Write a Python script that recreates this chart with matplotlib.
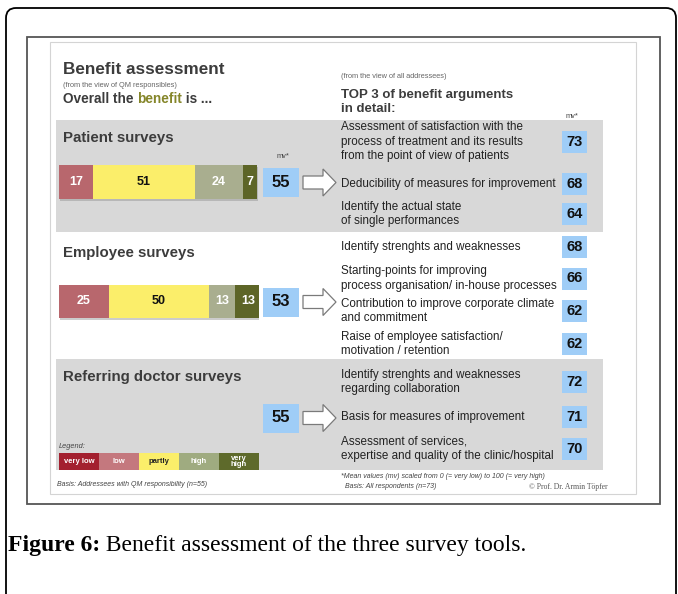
import matplotlib.pyplot as plt
from matplotlib.patches import Rectangle, FancyBboxPatch, FancyArrow

plt.rcParams['font.family'] = ['Liberation Sans', 'DejaVu Sans']

# ---- data ----
groups = ["Patient surveys", "Employee surveys", "Referring doctor surveys"]
level_labels = ["very low", "low", "partly", "high", "very\nhigh"]
# shares for low / partly / high / very high (very low not shown)
patient_shares = [17, 51, 24, 7]
employee_shares = [25, 50, 13, 13]
mean_values = [55, 53, 55]

patient_args = [
    "Assessment of satisfaction with the\nprocess of treatment and its results\nfrom the point of view of patients",
    "Deducibility of measures for improvement",
    "Identify the actual state\nof single performances",
]
patient_arg_mv = [73, 68, 64]
employee_args = [
    "Identify strenghts and weaknesses",
    "Starting-points for improving\nprocess organisation/ in-house processes",
    "Contribution to improve corporate climate\nand commitment",
    "Raise of employee satisfaction/\nmotivation / retention",
]
employee_arg_mv = [68, 66, 62, 62]
doctor_args = [
    "Identify strenghts and weaknesses\nregarding collaboration",
    "Basis for measures of improvement",
    "Assessment of services,\nexpertise and quality of the clinic/hospital",
]
doctor_arg_mv = [72, 71, 70]

# ---- layout (pixels) ----
W, H = 678, 594
share_colors = ['#b8676d', '#fbee6a', '#a9ae8f', '#5d6527']
share_text = ['white', '#111111', 'white', 'white']
legend_colors = ['#a3202f', '#c4787e', '#fbee6a', '#9fab80', '#5e6a2b']
legend_text = ['white', 'white', '#222222', 'white', 'white']
blue = '#9fcdf7'
band = '#d8d8d8'
dark = '#3c3c3c'

fig = plt.figure(figsize=(W / 100, H / 100), dpi=100)
ax = fig.add_axes([0, 0, 1, 1])
ax.set_xlim(0, W)
ax.set_ylim(H, 0)
ax.axis('off')

# frames
ax.add_patch(FancyBboxPatch((6, 8), 670, 600, boxstyle="round,pad=0,rounding_size=10",
                            fc='white', ec='black', lw=1.3))
ax.add_patch(Rectangle((27, 37), 633, 467, fc='white', ec='#555555', lw=1.3))
ax.add_patch(Rectangle((50, 42), 586, 452, fc='white', ec='#d4d4d4', lw=0.8))

# gray bands
ax.add_patch(Rectangle((56, 120), 547, 112, fc=band, ec='none'))
ax.add_patch(Rectangle((56, 359), 547, 111, fc=band, ec='none'))


def run_text(x, y, pieces, **kw):
    r = fig.canvas.get_renderer()
    for s, opts in pieces:
        t = ax.text(x, y, s, **kw, **opts)
        x += t.get_window_extent(renderer=r).width


# header left
ax.text(63, 70, "Benefit assessment", fontsize=12.3, fontweight='bold', color=dark, va='center')
ax.text(63, 85.5, "(from the view of QM responsibles)", fontsize=5.3, color='#666666', va='center')
run_text(63, 99, [("Overall the ", {'color': dark}),
                  ("benefit", {'color': '#85862a'}),
                  (" is ...", {'color': dark})],
         fontsize=9.8, fontweight='bold', va='center')

# header right
ax.text(341, 77, "(from the view of all addressees)", fontsize=5.3, color='#666666', va='center')
ax.text(341, 95, "TOP 3 of benefit arguments", fontsize=9.5, fontweight='bold', color=dark, va='center')
ax.text(341, 109, "in detail:", fontsize=9.5, fontweight='bold', color=dark, va='center')
ax.text(572, 116, "mv*", fontsize=5.3, color='#444444', va='center', ha='center')
ax.text(283, 157, "mv*", fontsize=5.3, color='#444444', va='center', ha='center')

# section titles
for g, y in zip(groups, [138, 253, 377]):
    ax.text(63, y, g, fontsize=10.8, fontweight='bold', color=dark, va='center')

# stacked bars on their own value scale
bax = fig.add_axes([59 / W, 0, 200 / W, 1])
bax.set_xlim(0, 100)
bax.set_ylim(H, 0)
bax.axis('off')
for shares, yc, h in [(patient_shares, 182, 34), (employee_shares, 301.5, 33)]:
    bax.barh(yc + 2, sum(shares), left=0.6, height=h, color='#8f8f8f', alpha=0.45, zorder=1)
    left = 0
    for v, c, tc in zip(shares, share_colors, share_text):
        bax.barh(yc, v, left=left, height=h, color=c, zorder=2)
        bax.text(left + v / 2, yc, str(v), ha='center', va='center', fontsize=9,
                 fontweight='bold', color=tc, zorder=3)
        left += v

# legend
ax.text(59, 446, "Legend:", fontsize=5.3, style='italic', color='#444444', va='center')
leg_w = [100 / len(level_labels)] * len(level_labels)
leg_left = [sum(leg_w[:i]) for i in range(len(leg_w))]
bax.barh(461.5, leg_w, left=leg_left, height=17, color=legend_colors, zorder=2)
for l, w, lab, tc in zip(leg_left, leg_w, level_labels, legend_text):
    bax.text(l + w / 2, 461.5, lab, ha='center', va='center', fontsize=5.5,
             fontweight='bold', color=tc, linespacing=0.95, zorder=3)

# mean value boxes and arrows
for mv, yc in zip(mean_values, [182.5, 302, 418]):
    ax.add_patch(Rectangle((263, yc - 14.5), 36, 29, fc=blue, ec='none'))
    ax.text(281, yc, str(mv), ha='center', va='center', fontsize=12, fontweight='bold', color='#111111')
    ax.add_patch(FancyArrow(303, yc, 33, 0, width=13, head_width=27, head_length=13,
                            length_includes_head=True, fc='white', ec='#7a7a7a', lw=0.9))

# argument lists
arg_sets = [
    (patient_args, patient_arg_mv, [141.5, 184, 214]),
    (employee_args, employee_arg_mv, [247, 278.5, 311, 344]),
    (doctor_args, doctor_arg_mv, [382, 417, 449]),
]
for args, mvs, ys in arg_sets:
    for a, mv, yc in zip(args, mvs, ys):
        ax.text(341, yc, a, fontsize=8.4, color='#222222', va='center', linespacing=1.32)
        ax.add_patch(Rectangle((562, yc - 11), 25, 22, fc=blue, ec='none'))
        ax.text(574.5, yc, str(mv), ha='center', va='center', fontsize=10.5,
                fontweight='bold', color='#111111')

# footnotes
ax.text(57, 484, "Basis: Addressees with QM responsibility (n=55)", fontsize=5,
        style='italic', color='#444444', va='center')
ax.text(341, 476, "*Mean values (mv) scaled from 0 (= very low) to 100 (= very high)", fontsize=5,
        style='italic', color='#444444', va='center')
ax.text(345, 487, "Basis: All respondents (n=73)", fontsize=5,
        style='italic', color='#444444', va='center')
ax.text(608, 487, "\u00a9 Prof. Dr. Armin T\u00f6pfer", fontsize=5.5, family='Liberation Serif',
        color='#555555', va='center', ha='right')

# caption
run_text(8, 545, [("Figure 6:", {'fontweight': 'bold'}),
                  (" Benefit assessment of the three survey tools.", {})],
         fontsize=17, family='Liberation Serif', color='black', va='center')

fig.savefig("out.png", dpi=100)
